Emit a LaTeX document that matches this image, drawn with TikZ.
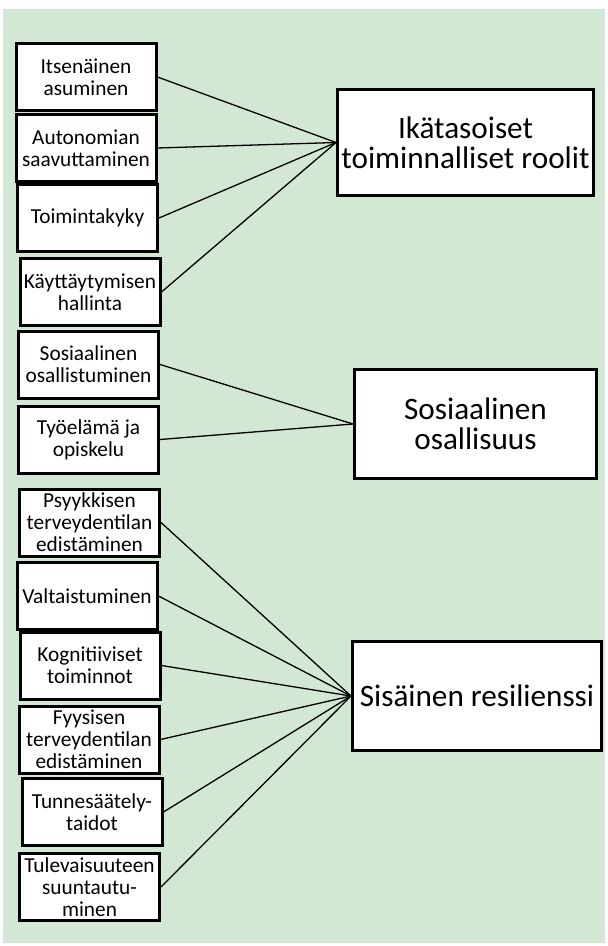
\documentclass[tikz,border=0pt]{standalone}
\usepackage{fontspec}
\setmainfont{Carlito}

\newdimen\px
\px=0.75pt
\definecolor{bggreen}{RGB}{210,232,212}

\tikzset{
  leftbox/.style={draw, line width=3\px, fill=white, align=center, inner sep=1pt,
    minimum width=140\px, minimum height=67\px, font=\fontsize{16}{16.5}\selectfont},
  rightbox/.style={draw, line width=3\px, fill=white, align=center, inner sep=1pt,
    font=\fontsize{23.4}{22.5}\selectfont},
  link/.style={line width=1.3\px}
}

\begin{document}
\begin{tikzpicture}[x=0.75pt,y=-0.75pt]

% Page and green background
\useasboundingbox (0,0) rectangle (607,946);
\fill[white] (0,0) rectangle (607,946);
\fill[bggreen] (3,9) rectangle (605,943);

% Left column of boxes
\node[leftbox] (asu) at (86,77) {Itsenäinen\\asuminen};
\node[leftbox] (auto) at (86,148) {Autonomian\\saavuttaminen};
\node[leftbox] (tk) at (87.5,218) {Toimintakyky};
\node[leftbox] (kh) at (90,292) {Käyttäytymisen\\hallinta};
\node[leftbox] (sos) at (88.5,364.5) {Sosiaalinen\\osallistuminen};
\node[leftbox] (tyo) at (88.5,439.5) {Työelämä ja\\opiskelu};
\node[leftbox] (psy) at (89.5,522.5) {Psyykkisen\\terveydentilan\\edistäminen};
\node[leftbox] (val) at (87,596) {Valtaistuminen};
\node[leftbox] (kog) at (90,665.5) {Kognitiiviset\\toiminnot};
\node[leftbox] (fyy) at (89,739.5) {Fyysisen\\terveydentilan\\edistäminen};
\node[leftbox] (tun) at (92,812) {Tunnesäätely-\\taidot};
\node[leftbox] (tul) at (89.5,887) {Tulevaisuuteen\\suuntautu-\\minen};

% Right column of boxes
\node[rightbox, minimum width=256\px, minimum height=106\px] (ika) at (465.5,142.5)
  {Ikätasoiset\\toiminnalliset roolit};
\node[rightbox, minimum width=242\px, minimum height=109\px] (osa) at (475.5,424)
  {Sosiaalinen\\osallisuus};
\node[rightbox, minimum width=249\px, minimum height=109\px] (res) at (477,696)
  {Sisäinen resilienssi};

% Connectors to the first group
\draw[link] (asu.east) -- (ika.west);
\draw[link] (auto.east) -- (ika.west);
\draw[link] (tk.east) -- (ika.west);
\draw[link] (kh.east) -- (ika.west);

% Connectors to the second group
\draw[link] (sos.east) -- (osa.west);
\draw[link] (tyo.east) -- (osa.west);

% Connectors to the third group
\draw[link] (psy.east) -- (res.west);
\draw[link] (val.east) -- (res.west);
\draw[link] (kog.east) -- (res.west);
\draw[link] (fyy.east) -- (res.west);
\draw[link] (tun.east) -- (res.west);
\draw[link] (tul.east) -- (res.west);

\end{tikzpicture}
\end{document}
